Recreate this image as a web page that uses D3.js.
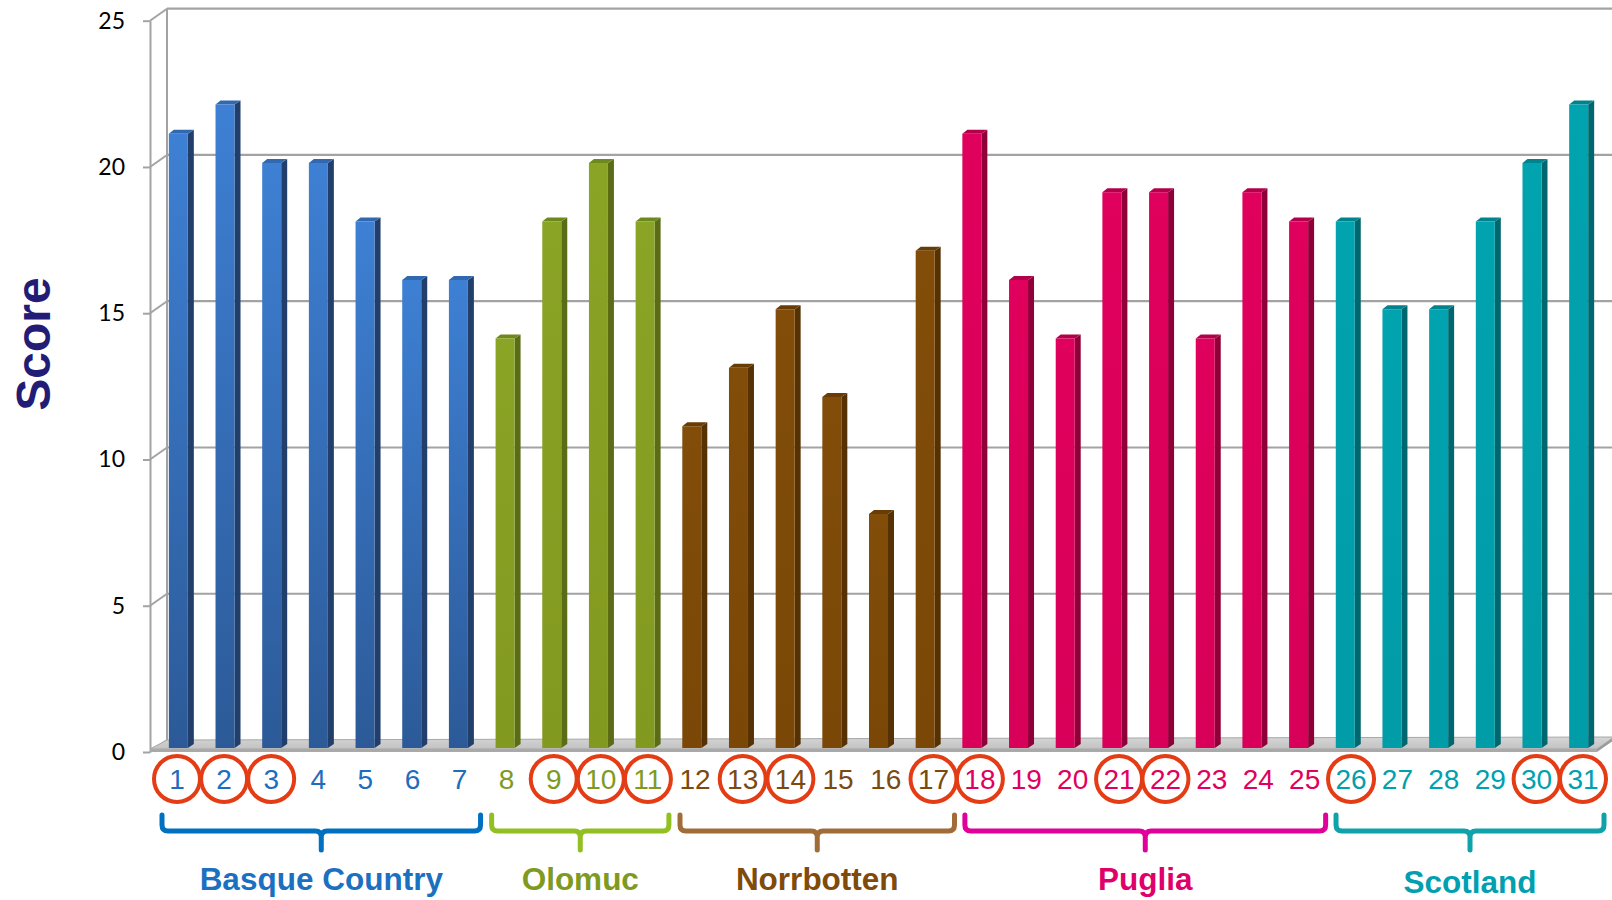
<!DOCTYPE html>
<html>
<head>
<meta charset="utf-8">
<script src="https://cdn.jsdelivr.net/npm/d3@7"></script>
<style>
  html, body { margin: 0; padding: 0; background: #ffffff; }
  svg { display: block; }
</style>
</head>
<body>
<script>
// ---------------- DATA ----------------
const categories = ["1","2","3","4","5","6","7","8","9","10","11","12","13","14","15","16",
                    "17","18","19","20","21","22","23","24","25","26","27","28","29","30","31"];
const values = [21,22,20,20,18,16,16, 14,18,20,18, 11,13,15,12,8,17,
                21,16,14,19,19,14,19,18, 18,15,15,18,20,22];
const regions = ["Basque Country","Olomuc","Norrbotten","Puglia","Scotland"];
const regionSizes = [7,4,6,8,6];
const circled = ["1","2","3","9","10","11","13","14","17","18","21","22","26","30","31"];
const yTicks = [0,5,10,15,20,25];
const yLabel = "Score";

// ---------------- STYLES ----------------
const palette = {
  "Basque Country": {top:"#3E80D4", bottom:"#2C5A98", side:"#223F6C", cap:"#3168B0", text:"#1E6EBE", brace:"#0070C0", name:"#1C70C0"},
  "Olomuc":         {top:"#8AA426", bottom:"#82991F", side:"#5A6C16", cap:"#6D881C", text:"#7F9A20", brace:"#92C020", name:"#7F9A20"},
  "Norrbotten":     {top:"#824D09", bottom:"#7A4706", side:"#553103", cap:"#683D05", text:"#7A4A10", brace:"#A06C38", name:"#7F4A0A"},
  "Puglia":         {top:"#E0005D", bottom:"#D80058", side:"#8E0037", cap:"#B3004A", text:"#E0005E", brace:"#E0009A", name:"#E0006A"},
  "Scotland":       {top:"#00A3AF", bottom:"#009CA8", side:"#00676F", cap:"#00838D", text:"#00A0AE", brace:"#10A2AA", name:"#00A0B0"}
};

const regionOf = [];
regionSizes.forEach((n, i) => { for (let k = 0; k < n; k++) regionOf.push(regions[i]); });
const data = categories.map((c, i) => ({cat: c, idx: i, value: values[i], region: regionOf[i]}));

const W = 1612, H = 900;
const WALL_DX = 17, WALL_DY = -12;
const BAR_DX = 5, BAR_DY = -4;
const DEP_X = 6, DEP_Y = -4;

const svg = d3.select("body").append("svg").attr("width", W).attr("height", H);

const x = d3.scaleBand().domain(categories).range([150, 1597]).paddingInner(0.593).paddingOuter(0.2965);
const y = d3.scaleLinear().domain([0, 25]).range([752, 20.7]);
// label positions (text boxes below axis, slightly uneven spacing)
const labelScale = d3.scaleLinear().domain([0, 11, 16, 30]).range([177, 695, 933.5, 1583]);
const labelX = c => labelScale(categories.indexOf(c));

const defs = svg.append("defs");
regions.forEach((r, i) => {
  const g = defs.append("linearGradient").attr("id", "g" + i).attr("x1", 0).attr("y1", 0).attr("x2", 0).attr("y2", 1);
  g.append("stop").attr("offset", "0%").attr("stop-color", palette[r].top);
  g.append("stop").attr("offset", "100%").attr("stop-color", palette[r].bottom);
});
const fg = defs.append("linearGradient").attr("id", "floorG").attr("x1", 0).attr("y1", 0).attr("x2", 0).attr("y2", 1);
fg.append("stop").attr("offset", "0%").attr("stop-color", "#D6D6D6");
fg.append("stop").attr("offset", "100%").attr("stop-color", "#C2C2C2");

const gridColor = "#A3A3A3";

const grid = svg.append("g");
grid.selectAll("line.grid").data(yTicks.filter(t => t > 0)).join("line")
  .attr("x1", 150 + WALL_DX).attr("x2", W)
  .attr("y1", d => y(d) + WALL_DY).attr("y2", d => y(d) + WALL_DY)
  .attr("stroke", gridColor).attr("stroke-width", 2.2);
grid.selectAll("line.diag").data(yTicks).join("line")
  .attr("x1", 150).attr("x2", 150 + WALL_DX)
  .attr("y1", d => y(d)).attr("y2", d => y(d) + WALL_DY)
  .attr("stroke", gridColor).attr("stroke-width", 2);
grid.append("line")
  .attr("x1", 150 + WALL_DX).attr("x2", 150 + WALL_DX)
  .attr("y1", y(25) + WALL_DY).attr("y2", y(0) + WALL_DY)
  .attr("stroke", gridColor).attr("stroke-width", 2);

const yAxis = svg.append("g").attr("transform", "translate(150,0)")
  .call(d3.axisLeft(y).tickValues(yTicks).tickSize(7).tickSizeOuter(0).tickPadding(18));
yAxis.select(".domain").attr("stroke", gridColor).attr("stroke-width", 2);
yAxis.selectAll(".tick line").attr("stroke", gridColor).attr("stroke-width", 2);
yAxis.selectAll(".tick text")
  .attr("font-family", "Lato, 'Open Sans', sans-serif").attr("font-size", 23).attr("fill", "#000");

const fl = 150, fr = 1597, fy = y(0);
svg.append("polygon")
  .attr("points", [[fl, fy - 3], [fr, fy - 3], [fr + WALL_DX, fy - 3 + WALL_DY], [fl + WALL_DX, fy + WALL_DY]].map(p => p.join(",")).join(" "))
  .attr("fill", "url(#floorG)").attr("stroke", "#A8A8A8").attr("stroke-width", 1);
svg.append("polygon")
  .attr("points", [[fl, fy - 3], [fr, fy - 3], [fr, fy], [fl, fy]].map(p => p.join(",")).join(" "))
  .attr("fill", "#A9A9A9");
svg.append("polygon")
  .attr("points", [[fr, fy - 3], [fr + WALL_DX, fy - 3 + WALL_DY], [fr + WALL_DX, fy + WALL_DY], [fr, fy]].map(p => p.join(",")).join(" "))
  .attr("fill", "#9C9C9C");

const bw = x.bandwidth();
const bars = svg.append("g");
data.forEach(d => {
  const p = palette[d.region];
  const gi = regions.indexOf(d.region);
  const bx = x(d.cat) + BAR_DX;
  const by = y(d.value) + BAR_DY;
  const base = y(0) + BAR_DY;
  const g = bars.append("g");
  g.append("polygon")
    .attr("points", [[bx + bw, by], [bx + bw + DEP_X, by + DEP_Y], [bx + bw + DEP_X, base + DEP_Y], [bx + bw, base]].map(q => q.join(",")).join(" "))
    .attr("fill", p.side);
  g.append("polygon")
    .attr("points", [[bx, by], [bx + DEP_X - 1, by + DEP_Y], [bx + bw + DEP_X, by + DEP_Y], [bx + bw, by]].map(q => q.join(",")).join(" "))
    .attr("fill", p.cap);
  g.append("rect")
    .attr("x", bx).attr("y", by).attr("width", bw).attr("height", base - by)
    .attr("fill", "url(#g" + gi + ")");
});

svg.append("g").selectAll("text").data(data).join("text")
  .attr("x", d => labelX(d.cat)).attr("y", 789)
  .attr("text-anchor", "middle")
  .attr("font-family", "'Liberation Sans', Arial, sans-serif").attr("font-size", 28)
  .attr("fill", d => palette[d.region].text)
  .text(d => d.cat);

svg.append("g").selectAll("circle").data(circled).join("circle")
  .attr("cx", d => labelX(d)).attr("cy", 779).attr("r", 23)
  .attr("fill", "none").attr("stroke", "#E43C14").attr("stroke-width", 4);

let start = 0;
regions.forEach((r, i) => {
  const first = categories[start], last = categories[start + regionSizes[i] - 1];
  start += regionSizes[i];
  const L = labelX(first) - 15, R = labelX(last) + 21, M = (L + R) / 2;
  const top = 815, h = 831, tip = 850, rr = 6;
  const d = `M${L},${top} V${h - rr} Q${L},${h} ${L + rr},${h} H${M - rr} Q${M},${h} ${M},${h + rr} V${tip}` +
            ` M${M},${h + rr} Q${M},${h} ${M + rr},${h} H${R - rr} Q${R},${h} ${R},${h - rr} V${top}`;
  svg.append("path").attr("d", d).attr("fill", "none")
    .attr("stroke", palette[r].brace).attr("stroke-width", 5)
    .attr("stroke-linecap", "round").attr("stroke-linejoin", "round");
  svg.append("text").attr("x", M).attr("y", r === "Scotland" ? 893 : 890)
    .attr("text-anchor", "middle")
    .attr("font-family", "'Liberation Sans', Arial, sans-serif").attr("font-weight", "bold").attr("font-size", 31.5)
    .attr("fill", palette[r].name).text(r);
});

svg.append("text")
  .attr("transform", "translate(50,344) rotate(-90)")
  .attr("text-anchor", "middle")
  .attr("font-family", "'Liberation Sans', Arial, sans-serif").attr("font-weight", "bold").attr("font-size", 48)
  .attr("fill", "#231C77").text(yLabel);
</script>
</body>
</html>
